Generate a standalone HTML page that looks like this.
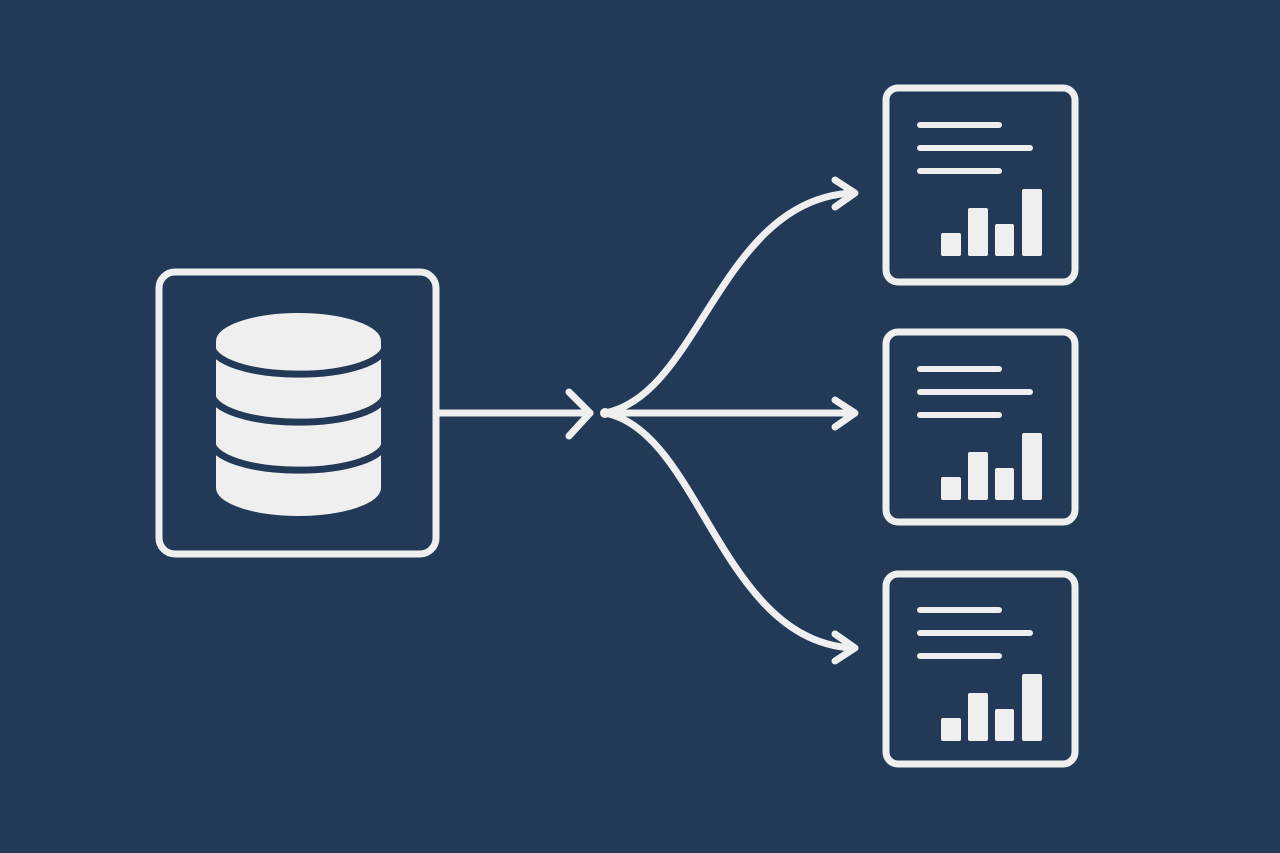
<!DOCTYPE html>
<html><head><style>html,body{margin:0;padding:0;background:#223a57;}svg{display:block}</style></head>
<body>
<svg width="1280" height="853" viewBox="0 0 1280 853" xmlns="http://www.w3.org/2000/svg">
<rect width="1280" height="853" fill="#223a57"/>
<g fill="none" stroke="#efefef" stroke-width="7" stroke-linecap="round" stroke-linejoin="round">
<rect x="159" y="272" width="277" height="282" rx="16"/>
<line x1="437" y1="413" x2="590" y2="413"/>
<polyline points="569,392 590,413 569,436"/>
<path d="M605,413 C700,395 720,200 852,193"/>
<polyline points="835,180 855,193 835,207"/>
<line x1="605" y1="413" x2="853" y2="413"/>
<polyline points="835,400 855,413 835,427"/>
<path d="M605,413 C700,431 720,640 852,648"/>
<polyline points="835,634 855,648 835,661"/>
<rect x="886" y="88" width="189" height="194" rx="12"/>
<rect x="886" y="332" width="189" height="190" rx="12"/>
<rect x="886" y="574" width="189" height="190" rx="12"/>
</g>
<circle cx="605" cy="413" r="5" fill="#efefef"/>
<path d="M216,341 A82.5,28 0 0 1 381,341 L381,488 A82.5,28 0 0 1 216,488 Z" fill="#efefef"/>
<g fill="none" stroke="#223a57" stroke-width="7">
<path d="M212,346 A86,28 0 0 0 385,346"/>
<path d="M212,394 A86,28 0 0 0 385,394"/>
<path d="M212,442 A86,28 0 0 0 385,442"/>
</g>
<g fill="#efefef">
<g id="r1">
<rect x="917" y="122" width="85" height="6" rx="3"/>
<rect x="917" y="145" width="116" height="6" rx="3"/>
<rect x="917" y="168" width="85" height="6" rx="3"/>
<rect x="941" y="233" width="20" height="23" rx="2"/>
<rect x="968" y="208" width="20" height="48" rx="2"/>
<rect x="995" y="224" width="19" height="32" rx="2"/>
<rect x="1022" y="189" width="20" height="67" rx="2"/>
</g>
<use href="#r1" y="244"/>
<use href="#r1" y="485"/>
</g>
</svg>
</body></html>
